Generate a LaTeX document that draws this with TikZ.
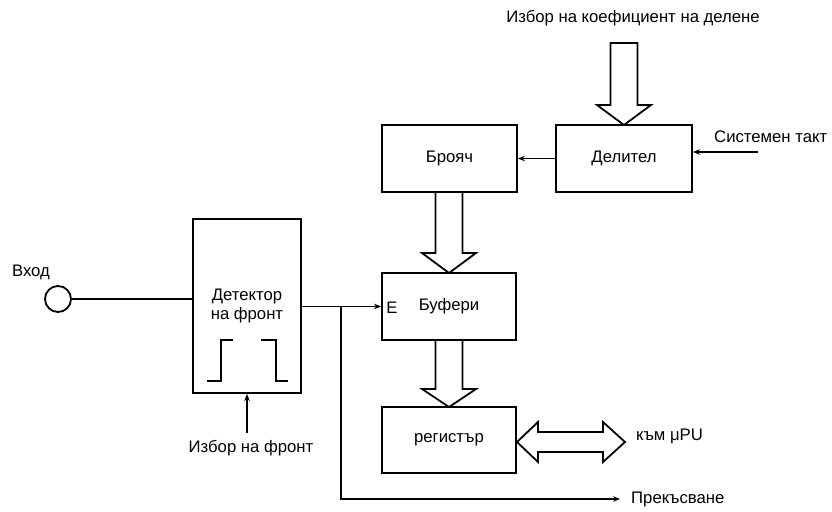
\documentclass[tikz,border=0pt]{standalone}
\usepackage{fontspec}
\setmainfont{Liberation Sans}
\usetikzlibrary{arrows.meta,calc}
\tikzset{
  blk/.style={draw,line width=1.9pt,rectangle,inner sep=0pt,align=center},
  lbl/.style={inner sep=1pt,font=\fontsize{16.7}{19}\selectfont},
  wire/.style={line width=1.8pt},
  sig/.style={line width=1.8pt,-{Stealth[length=7pt,width=5.5pt]}},
  fat/.style={line width=1.8pt,fill=white,line join=miter},
}
\newcommand\harrowdown[4]{% x, ytop, ybase, ytip
  \draw[fat] (#1-13.5,#2) -- (#1-13.5,#3) -- (#1-27,#3) -- (#1,#4) -- (#1+27,#3) -- (#1+13.5,#3) -- (#1+13.5,#2) -- cycle;}
\begin{document}
\begin{tikzpicture}[x=1pt,y=-1pt,font=\fontsize{16.7}{19}\selectfont]
\useasboundingbox (0,0) rectangle (832,511);
% blocks
\node[blk,minimum width=108pt,minimum height=174pt] (det) at (247,306) {Детектор\\на фронт};
\node[blk,minimum width=135pt,minimum height=67pt] (broy) at (449.5,158.5) {Брояч};
\node[blk,minimum width=136pt,minimum height=67pt] (del) at (624,158.5) {Делител};
\node[blk,minimum width=134pt,minimum height=67pt] (buf) at (449,306.5) {Буфери};
\node[blk,minimum width=134pt,minimum height=66pt] (reg) at (449,440) {регистър};
\node[lbl] (en) at (392,308) {E};
% input
\node[draw,circle,line width=1.8pt,minimum size=26pt,inner sep=0pt] (inp) at (58,299) {};
\node[lbl] (vhod) at (31,272) {Вход};
\draw[wire] (inp.east) -- (inp -| det.west);
% pulses
\draw[line width=1.6pt] (207,381) -- (221,381) -- (221,340) -- (233,340);
\draw[line width=1.6pt] (261,340) -- (276,340) -- (276,381) -- (288,381);
% edge select
\node[lbl] (fr) at (251,448) {Избор на фронт};
\coordinate (frs) at (247,433);
\draw[sig] (frs) -- (frs |- det.south);
% detector output
\coordinate (j) at (341,306.5);
\draw[sig] (det.east |- buf.west) -- (buf.west);
\node[lbl,anchor=west] (irq) at (630,499) {Прекъсване};
\draw[sig] (j) |- ([xshift=-10pt]irq.west);
% clock
\node[lbl,anchor=west] (clk) at (713,137) {Системен такт};
\coordinate (clks) at (758,152);
\draw[sig] (clks) -- (clks -| del.east);
\draw[sig] (del.west) -- (broy.east);
% division coefficient
\node[lbl] (coef) at (633,18) {Избор на коефициент на делене};
\harrowdown{624}{43}{105}{125}
\harrowdown{449}{192}{253}{273}
\harrowdown{449}{340}{389}{407}
% bidirectional bus
\draw[fat] (517,442) -- (538,422) -- (538,432) -- (603,432) -- (603,422) -- (625,442) -- (603,462) -- (603,452) -- (538,452) -- (538,462) -- cycle;
\node[lbl,anchor=west] (mpu) at (635,436) {към μPU};
\end{tikzpicture}
\end{document}
